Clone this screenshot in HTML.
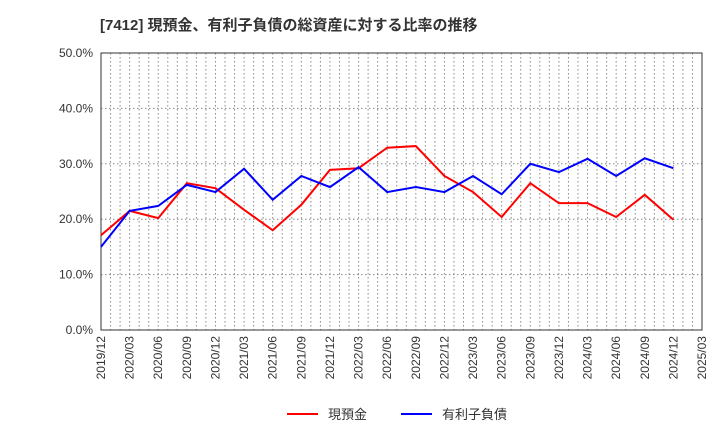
<!DOCTYPE html>
<html><head><meta charset="utf-8"><style>
body{margin:0;background:#fff;font-family:"Liberation Sans","Noto Sans CJK JP",sans-serif;}
</style></head><body>
<svg width="720" height="440" xmlns="http://www.w3.org/2000/svg" font-family="Liberation Sans, Noto Sans CJK JP, sans-serif">
<text x="100" y="30" font-size="15" font-weight="bold" fill="#333">[7412]  現預金、有利子負債の総資産に対する比率の推移</text>
<g id="grid"></g>
<g id="axes"></g>
<g id="series"></g>
<g>
<line x1="287" y1="414" x2="318" y2="414" stroke="#f00" stroke-width="2"/>
<text x="328" y="419" font-size="13" fill="#333">現預金</text>
<line x1="401" y1="414" x2="432" y2="414" stroke="#00f" stroke-width="2"/>
<text x="442" y="419" font-size="13" fill="#333">有利子負債</text>
</g>
</svg>
<script>
const categories=["2019/12","2020/03","2020/06","2020/09","2020/12","2021/03","2021/06","2021/09","2021/12","2022/03","2022/06","2022/09","2022/12","2023/03","2023/06","2023/09","2023/12","2024/03","2024/06","2024/09","2024/12","2025/03"];
const cashValues=[17.1,21.5,20.2,26.5,25.6,21.7,18.0,22.6,28.9,29.2,32.9,33.2,27.8,24.9,20.4,26.5,22.9,22.9,20.4,24.4,19.9];
const debtValues=[15.0,21.5,22.4,26.2,24.9,29.1,23.5,27.8,25.8,29.4,24.9,25.8,24.9,27.8,24.5,30.0,28.5,30.9,27.8,31.0,29.2];
const yTicks=[0,10,20,30,40,50];
const X0=101,X1=702,Y0=330,Y1=53;
const NS="http://www.w3.org/2000/svg";
function xs(i){return X0+(X1-X0)*i/(categories.length-1);}
function ys(v){return Y0-(Y0-Y1)*v/50;}
function mk(tag,attrs,parent){const e=document.createElementNS(NS,tag);for(const k in attrs)e.setAttribute(k,attrs[k]);document.getElementById(parent).appendChild(e);return e;}
for(let m=0;m<=(categories.length-1)*3;m++){
 const x=xs(m/3);
 const l=mk("line",{x1:x,x2:x,y1:Y1,y2:Y0,stroke:"#888","stroke-dasharray":"1.5,2.5","stroke-width":1},"grid");
 
 
}
categories.forEach((c,i)=>{
 const t=mk("text",{x:0,y:0,"font-size":12,fill:"#333","text-anchor":"end",transform:`translate(${xs(i)+4},${Y0+6}) rotate(-90)`},"axes");
 t.textContent=c;
 
 
});
yTicks.forEach(v=>{
 const l=mk("line",{x1:X0,x2:X1,y1:ys(v),y2:ys(v),stroke:"#888","stroke-dasharray":"1.5,2.5","stroke-width":1},"grid");
 
 
 const t=mk("text",{x:X0-8,y:ys(v)+4,"font-size":12,fill:"#333","text-anchor":"end"},"axes");
 t.textContent=v.toFixed(1)+"%";
 
 
});
const frame=mk("rect",{x:X0,y:Y1,width:X1-X0,height:Y0-Y1,fill:"none",stroke:"#333","stroke-width":1},"axes");


function line(vals,color,name){
 const p=mk("polyline",{points:vals.map((v,i)=>xs(i)+","+ys(v)).join(" "),fill:"none",stroke:color,"stroke-width":2},"series");
 
 
}
line(cashValues,"#f00","cash-line");
line(debtValues,"#00f","debt-line");
</script>
</body></html>
